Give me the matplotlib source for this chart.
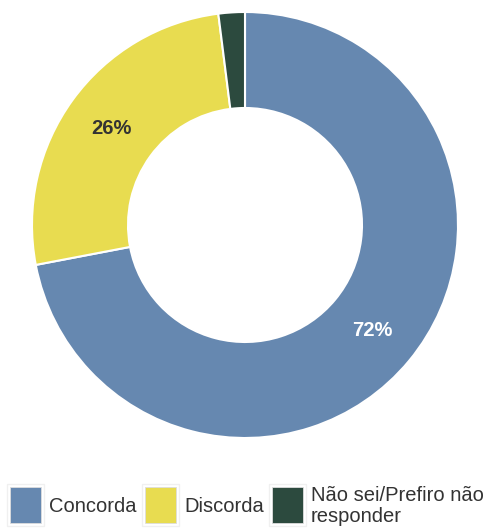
import matplotlib
matplotlib.use("Agg")
import matplotlib.pyplot as plt
from matplotlib.patches import Rectangle
import numpy as np

plt.rcParams['font.family'] = ['Liberation Sans', 'DejaVu Sans']

categories = ["Concorda", "Discorda", "Não sei/Prefiro não\nresponder"]
values = [72, 26, 2]
labels = ["72%", "26%", ""]
colors = ["#6688B0", "#E8DC50", "#2C4A3E"]
label_colors = ["white", "#333333", "white"]

W, H = 488, 530
fig = plt.figure(figsize=(W / 100, H / 100), dpi=100)
cx, cy, R = 245, 225, 213
ax = fig.add_axes([(cx - R) / W, (H - cy - R) / H, 2 * R / W, 2 * R / H])
ring = 1 - 117 / 213
wedges, _ = ax.pie(values, colors=colors, startangle=90, counterclock=False,
                   radius=1, wedgeprops=dict(width=ring, edgecolor="white", linewidth=1.5))
cum = 0
for v, lab, lc in zip(values, labels, label_colors):
    mid = 90 - (cum + v / 2) / sum(values) * 360
    cum += v
    if lab:
        r = 1 - ring / 2
        ax.text(r * np.cos(np.radians(mid)), r * np.sin(np.radians(mid)), lab,
                ha="center", va="center", fontsize=14.5, fontweight="bold", color=lc)
ax.set_xlim(-1, 1)
ax.set_ylim(-1, 1)
ax.set_aspect("equal")
ax.axis("off")

# legend drawn in a pixel-coordinate overlay
lax = fig.add_axes([0, 0, 1, 1])
lax.set_xlim(0, W)
lax.set_ylim(H, 0)
lax.axis("off")
patch_x = [10, 145, 272]
text_x = [49, 184, 311]
for c, cat, px, tx in zip(colors, categories, patch_x, text_x):
    lax.add_patch(Rectangle((px - 3, 484), 37, 42, facecolor="none", edgecolor="#f0f0f0", linewidth=1))
    lax.add_patch(Rectangle((px, 487), 31, 36, facecolor=c, edgecolor="#dddddd", linewidth=0.6))
    lax.text(tx, 506, cat, ha="left", va="center", fontsize=14.5, color="#333333", linespacing=1.1)

fig.savefig("out.png", dpi=100)
